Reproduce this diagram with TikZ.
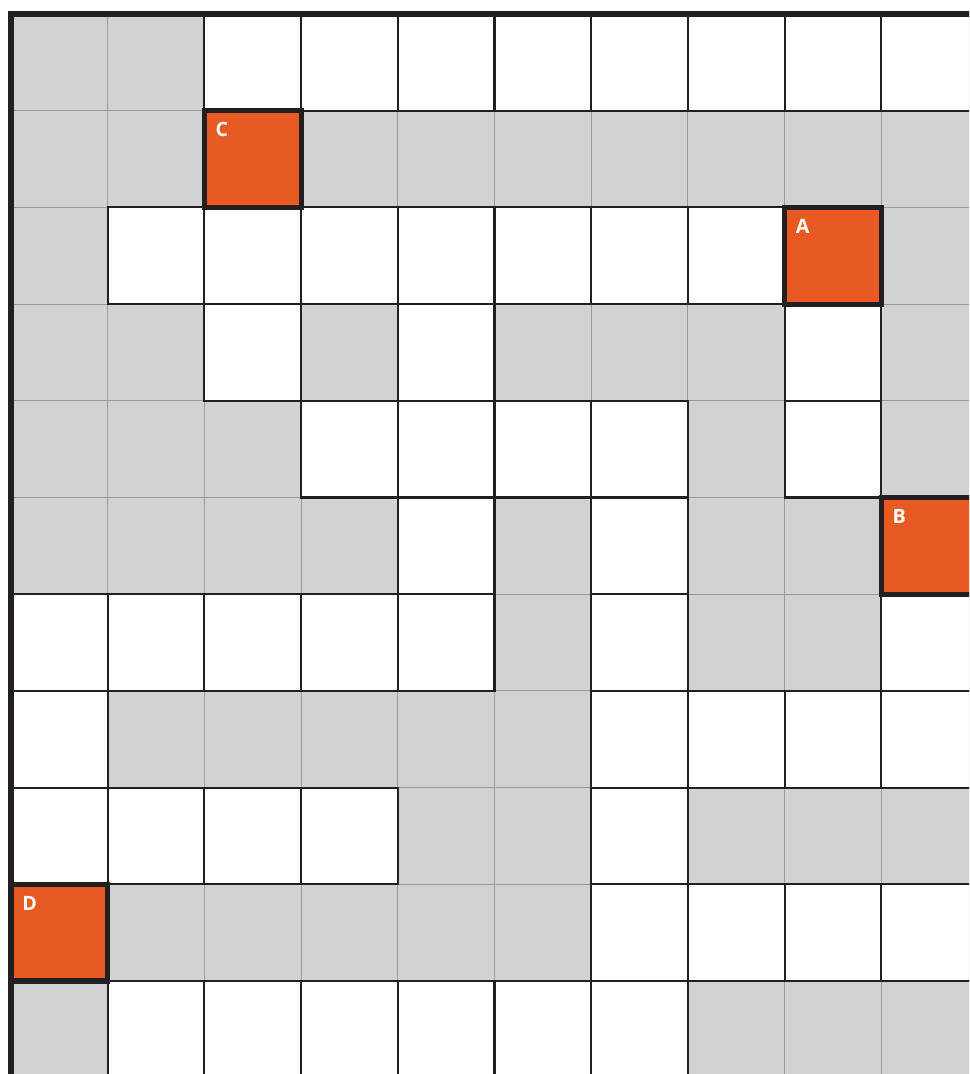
\documentclass[tikz,border=0pt]{standalone}
\usepackage{fontspec}
\setsansfont{Open Sans}
\definecolor{cellgrey}{HTML}{D1D2D4}
\definecolor{cellorange}{HTML}{E85A24}
\definecolor{linedark}{HTML}{231F20}
\definecolor{linegrey}{HTML}{9A9B9D}

% white cells as column/row, rows counted downwards
\def\whitecells{2/0,3/0,4/0,5/0,6/0,7/0,8/0,9/0,
  1/2,2/2,3/2,4/2,5/2,6/2,7/2,
  2/3,4/3,8/3,
  3/4,4/4,5/4,6/4,8/4,
  4/5,6/5,
  0/6,1/6,2/6,3/6,4/6,6/6,9/6,
  0/7,6/7,7/7,8/7,9/7,
  0/8,1/8,2/8,3/8,6/8,
  6/9,7/9,8/9,9/9,
  1/10,2/10,3/10,4/10,5/10,6/10}

\begin{document}
\begin{tikzpicture}[
  whitecell/.style={draw=linedark, line width=0.6pt},
  markcell/.style={fill=cellorange, draw=linedark, line width=1.5pt},
  marklabel/.style={anchor=base west, inner sep=0pt, text=white,
    font=\sffamily\bfseries\fontsize{5.8}{7}\selectfont}]
  \clip (-0.114,-10.962) rectangle (9.907,0.145);
  \fill[white] (-0.114,-10.962) rectangle (9.907,0.145);

  % Grey background with thin grid
  \fill[cellgrey] (0,-11) rectangle (10,0);
  \draw[linegrey, line width=0.3pt] (0,-11) grid (10,0);

  % White cells
  \foreach \c/\r in \whitecells
    \fill[white] (\c,-\r) rectangle ++(1,-1);
  \foreach \c/\r in \whitecells
    \draw[whitecell] (\c,-\r) rectangle ++(1,-1);

  % Marked cells
  \foreach \c/\r/\name in {8/2/A, 9/5/B, 2/1/C, 0/9/D} {
    \draw[markcell] (\c,-\r) rectangle ++(1,-1);
    \node[marklabel] (lbl\name) at (\c+0.11,-\r-0.27) {\name};
  }

  % Outer border
  \draw[linedark, line width=1.8pt] (0,-11) -- (0,0) -- (10,0);
\end{tikzpicture}
\end{document}
